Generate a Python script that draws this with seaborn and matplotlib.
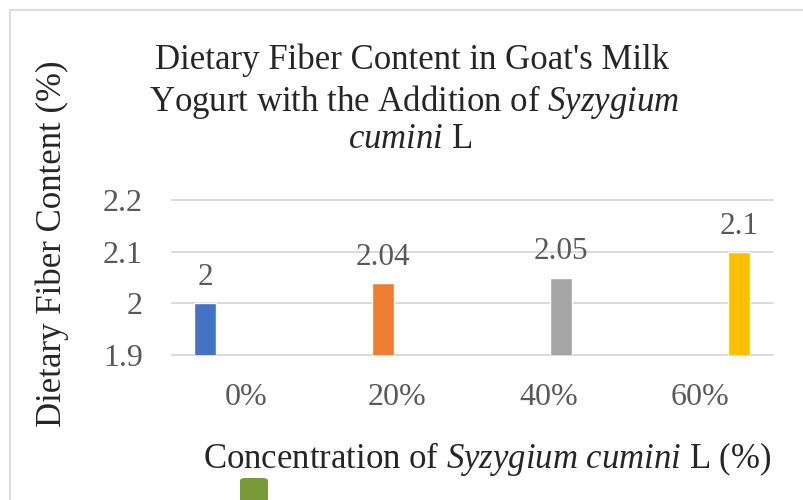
import numpy as np
import pandas as pd
import seaborn as sns
import matplotlib.pyplot as plt
from matplotlib.patches import Rectangle, FancyBboxPatch

# dane z wykresu
stezenie = ['0%', '20%', '40%', '60%']
blonnik = [2.00, 2.04, 2.05, 2.10]
etykiety = ['2', '2.04', '2.05', '2.1']
kolory = ['#4472C4', '#ED7D31', '#A5A5A5', '#FFC000']
y_ticks = [1.9, 2.0, 2.1, 2.2]
y_tick_labels = ['1.9', '2', '2.1', '2.2']

sns.set_style('white')
plt.rcParams['font.family'] = ['Liberation Serif', 'DejaVu Serif']
plt.rcParams['mathtext.fontset'] = 'custom'
plt.rcParams['mathtext.rm'] = 'Liberation Serif'
plt.rcParams['mathtext.it'] = 'Liberation Serif:italic'

df = pd.DataFrame({'conc': stezenie, 'fiber': blonnik})

fig = plt.figure(figsize=(8.04, 5.0), dpi=100)
ax = fig.add_axes([172 / 804, 1 - 355 / 500, 601 / 804, 155 / 500])

sns.barplot(data=df, x='conc', y='fiber', hue='conc', palette=kolory,
            width=0.124, legend=False, ax=ax, saturation=1)

for cont, lab in zip(ax.containers, etykiety):
    ax.bar_label(cont, labels=[lab], padding=8, fontsize=22.5, color='#595959')

ax.set_ylim(1.9, 2.2)
ax.set_xlim(-0.185, 3.19)
ax.set_yticks(y_ticks)
ax.set_yticklabels(y_tick_labels)
# etykiety osi X nie pokrywaja sie ze slupkami (jak w oryginale)
ax.set_xticks(np.linspace(0.23, 2.78, 4))
ax.set_xticklabels(stezenie)
ax.tick_params(axis='both', length=0, labelsize=23, labelcolor='#595959')
ax.tick_params(axis='y', pad=21)
ax.tick_params(axis='x', pad=20)
ax.set_xlabel('')
ax.set_ylabel('')
ax.yaxis.grid(True, color='#D9D9D9', linewidth=1.4)
ax.set_axisbelow(True)
for line in ax.get_ygridlines():
    line.set_clip_on(False)
sns.despine(ax=ax, left=True, bottom=True)

# tytul
fig.text(412 / 804, 1 - 60 / 500, "Dietary Fiber Content in Goat's Milk",
         ha='center', va='center', fontsize=25)
fig.text(414 / 804, 1 - 102 / 500, r"Yogurt with the Addition of $\mathit{Syzygium}$",
         ha='center', va='center', fontsize=25)
fig.text(410 / 804, 1 - 140 / 500, r"$\mathit{cumini}$ L",
         ha='center', va='center', fontsize=25)

# opisy osi
fig.text(487 / 804, 1 - 459 / 500, r"Concentration of $\mathit{Syzygium\ cumini}$ L (%)",
         ha='center', va='center', fontsize=25)
fig.text(52 / 804, 1 - 244 / 500, 'Dietary Fiber Content (%)',
         ha='center', va='center', rotation=90, fontsize=25)

# ramka wykresu i zielony znaczek na dole
fig.patches.append(Rectangle((10 / 804, -0.05), 1.0, 1 - 10 / 500 + 0.05,
                             transform=fig.transFigure, fill=False,
                             edgecolor='#DDDDDD', linewidth=1.5))
fig.patches.append(FancyBboxPatch((240 / 804, -0.02), 28 / 804, 32 / 500,
                                  boxstyle='round,pad=0,rounding_size=0.006',
                                  transform=fig.transFigure,
                                  facecolor='#7A9A3A', edgecolor='none'))

plt.savefig('out.png', dpi=100)
plt.close()
